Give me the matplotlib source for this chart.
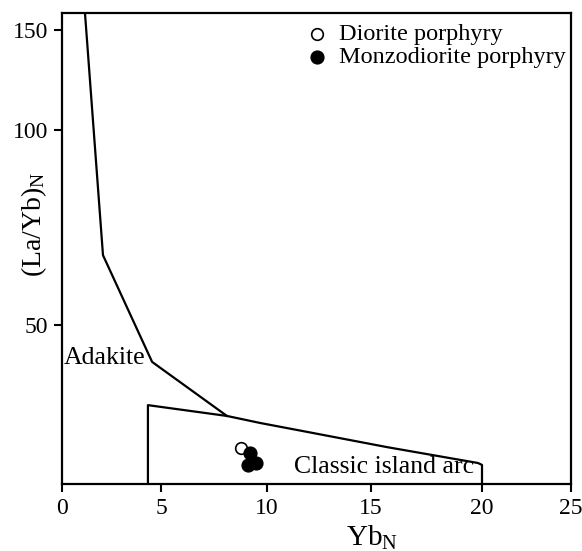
import numpy as np
import matplotlib
matplotlib.use("Agg")
import matplotlib.pyplot as plt

plt.rcParams['font.family'] = ['Liberation Serif', 'DejaVu Serif']
plt.rcParams['mathtext.fontset'] = 'custom'
plt.rcParams['mathtext.rm'] = 'Liberation Serif'
plt.rcParams['mathtext.it'] = 'Liberation Serif'

# the original figure is hand drawn, so its axes are not evenly spaced;
# knots map tick values to their measured positions
x_knots = [-100, 0, 5, 10, 15, 20, 25, 100]
x_pos = [-1980, 0, 99, 205, 309, 420, 509, 1844]
y_knots = [-100, 0, 50, 100, 150, 1000]
y_pos = [-318, 0, 159, 354, 454, 2154]

# field boundaries (YbN, (La/Yb)N)
adakite_x = [1.16, 2.07, 4.55, 8.11]
adakite_y = [158.5, 67.9, 38.4, 21.4]
arc_x = [4.34, 4.34, 8.11, 9.67, 11.92, 15.72, 19.82, 20.0, 20.0]
arc_y = [0.0, 24.8, 21.4, 19.2, 16.4, 11.6, 6.6, 6.0, 0.0]

# samples
diorite_x = [8.77]
diorite_y = [11.3]
monzo_x = [9.2, 9.1, 9.48]
monzo_y = [9.75, 6.0, 6.6]

x_ticks = [0, 5, 10, 15, 20, 25]
y_ticks = [50, 100, 150]


def fwd_x(v):
    return np.interp(v, x_knots, x_pos)


def inv_x(p):
    return np.interp(p, x_pos, x_knots)


def fwd_y(v):
    return np.interp(v, y_knots, y_pos)


def inv_y(p):
    return np.interp(p, y_pos, y_knots)


fig = plt.figure(figsize=(5.82, 5.51), dpi=100)
ax = fig.add_axes([62 / 582, 1 - 484 / 551, 509 / 582, 471 / 551])
ax.set_xscale('function', functions=(fwd_x, inv_x))
ax.set_yscale('function', functions=(fwd_y, inv_y))
ax.set_xlim(0, 25)
ax.set_ylim(0, 158.5)

ax.plot(adakite_x, adakite_y, color='black', lw=1.6)
ax.plot(arc_x, arc_y, color='black', lw=1.6)

ax.scatter(diorite_x, diorite_y, s=70, facecolors='white', edgecolors='black',
           linewidths=1.2, zorder=3, label='Diorite porphyry')
ax.scatter(monzo_x, monzo_y, s=85, color='black', zorder=3,
           label='Monzodiorite porphyry')

ax.text(0.1, 39.5, 'Adakite', fontsize=18.5, ha='left', va='center')
ax.text(11.3, 5.2, 'Classic island arc', fontsize=18.5, ha='left', va='center')

ax.set_xticks(x_ticks)
ax.set_yticks(y_ticks)
ax.set_xticklabels([str(t) for t in x_ticks])
ax.set_yticklabels([str(t) for t in y_ticks])
ax.tick_params(direction='out', length=6, width=1.5, labelsize=17, pad=4)
for s in ax.spines.values():
    s.set_linewidth(1.6)

ax.set_xlabel(r'Yb$_\mathrm{N}$', fontsize=21)
ax.set_ylabel(r'(La/Yb)$_\mathrm{N}$', fontsize=20)
ax.xaxis.set_label_coords(0.61, -0.085)
ax.yaxis.set_label_coords(-0.025, 0.552)

ax.legend(loc='upper left', bbox_to_anchor=(0.448, 1.01), frameon=False,
          fontsize=17.5, handlelength=1.0, handletextpad=0.4,
          labelspacing=0.05, borderaxespad=0.2, scatterpoints=1)

fig.savefig('out.png', dpi=100)
